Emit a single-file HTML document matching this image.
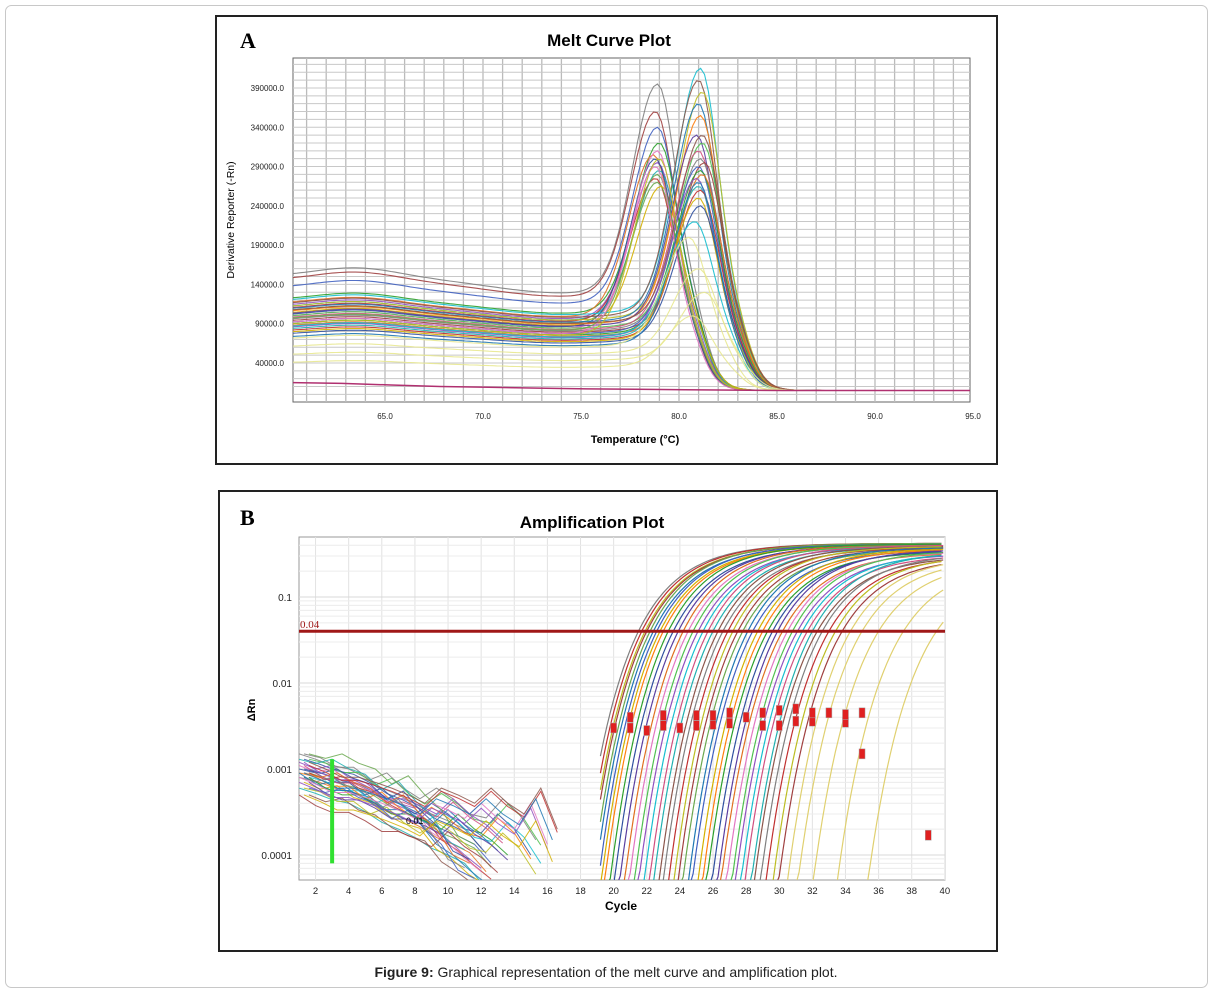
<!DOCTYPE html>
<html><head><meta charset="utf-8">
<style>
html,body{margin:0;padding:0;background:#fff;}
body{width:1213px;height:993px;position:relative;overflow:hidden;font-family:"Liberation Sans",sans-serif;}
svg{display:block;position:absolute;left:0;top:0;}
</style></head>
<body>
<svg id="svg" width="1213" height="993" viewBox="0 0 1213 993" xmlns="http://www.w3.org/2000/svg">
<rect x="5.5" y="5.5" width="1202" height="982" rx="6" fill="#fff" stroke="#c8c8c8"/>
<rect x="216" y="16" width="781" height="448" fill="#fff" stroke="#222" stroke-width="2"/>
<rect x="219" y="491" width="778" height="460" fill="#fff" stroke="#222" stroke-width="2"/>
<text x="240" y="48" font-family="Liberation Serif" font-weight="bold" font-size="22">A</text>
<text x="609" y="46" text-anchor="middle" font-weight="bold" font-size="17">Melt Curve Plot</text>
<text x="240" y="525" font-family="Liberation Serif" font-weight="bold" font-size="22">B</text>
<text x="592" y="528" text-anchor="middle" font-weight="bold" font-size="17">Amplification Plot</text>
<g id="melt"></g>
<g id="amp"></g>
<text x="606" y="977" text-anchor="middle" font-size="14" fill="#222"><tspan font-weight="bold">Figure 9:</tspan> Graphical representation of the melt curve and amplification plot.</text>
</svg>
<script>
// ---------- Melt curve data ----------
const meltTicksX = [65, 70, 75, 80, 85, 90, 95];
const meltTicksY = [40000, 90000, 140000, 190000, 240000, 290000, 340000, 390000];
const meltTickLabelsY = ["40000.0","90000.0","140000.0","190000.0","240000.0","290000.0","340000.0","390000.0"];
// per-curve: peak temperature, peak height, starting baseline
const meltPeakT = [78.9,78.8,78.9,79.0,78.7,78.9,79.0,78.8,78.9,79.1,78.8,78.9,81.1,81.0,81.2,81.0,81.1,80.9,81.2,81.0,81.1,81.3,81.0,81.1,81.2,80.9,81.0,81.1,78.9,81.0,81.1,78.8,80.8,81.2,79.0,81.0,80.5,81.0,81.3,80.7];
const meltPeakH = [395000,360000,340000,320000,305000,295000,285000,275000,270000,265000,300000,310000,415000,400000,385000,370000,355000,330000,320000,310000,300000,295000,290000,285000,280000,275000,265000,260000,280000,250000,240000,290000,220000,330000,300000,270000,200000,160000,130000,100000];
const meltBase = [150000,145000,135000,120000,115000,112000,110000,108000,105000,102000,100000,98000,118000,114000,110000,107000,104000,101000,98000,96000,94000,92000,90000,88000,86000,84000,82000,80000,95000,78000,76000,90000,85000,105000,88000,72000,70000,60000,50000,40000];
const magentaLine = [15000,14000,12000,10000,9000,8000,7000,6500,6000,5500,5000,5000,5000,5000,5000];
// ---------- Amplification data ----------
const ampTicksX = [2,4,6,8,10,12,14,16,18,20,22,24,26,28,30,32,34,36,38,40];
const ampTicksY = [0.0001,0.001,0.01,0.1];
const ampTickLabelsY = ["0.0001","0.001","0.01","0.1"];
const ampThreshold = 0.04;
const ampCt = [21.5,21.7,21.9,22.0,22.2,22.4,22.6,22.8,23.0,23.3,23.6,23.9,24.2,24.5,24.8,25.1,25.4,25.7,26.0,26.3,26.6,26.9,27.2,27.5,27.8,28.1,28.4,28.7,29.0,29.3,29.6,29.9,30.2,30.5,30.8,31.1,31.4,31.7,32.0,32.3,32.6,33.0,33.4,33.8,34.3,35.0,36.0,37.5,39.5];
const ampPlateau = [0.42,0.42,0.41,0.41,0.42,0.4,0.41,0.4,0.4,0.41,0.39,0.4,0.4,0.39,0.4,0.38,0.39,0.4,0.38,0.39,0.37,0.38,0.39,0.37,0.36,0.38,0.35,0.37,0.36,0.34,0.35,0.36,0.33,0.34,0.35,0.32,0.33,0.31,0.34,0.3,0.32,0.3,0.31,0.29,0.3,0.28,0.26,0.25,0.22];
const ampMarkerCycle = [20,21,21,22,23,23,24,25,25,26,26,27,27,28,29,29,30,30,31,31,32,32,33,34,34,35,35,39];
const ampMarkerVal = [0.003,0.003,0.004,0.0028,0.0032,0.0042,0.003,0.0032,0.0042,0.0033,0.0042,0.0034,0.0045,0.004,0.0032,0.0045,0.0032,0.0048,0.0036,0.005,0.0036,0.0045,0.0045,0.0035,0.0043,0.0045,0.0015,0.00017];
const noiseStart = [0.0015,0.0012,0.001,0.0009,0.0008,0.0007,0.0006,0.0011,0.0009,0.0005,0.0013,0.0008];
const noise1 = [0.0015,0.0013,0.0011,0.0010,0.0008,0.0006,0.0005,0.0004,0.0003,0.00025,0.0002,0.00012];
const noise2 = [0.0012,0.0010,0.0011,0.0008,0.0007,0.0005,0.0004,0.00035,0.0002,0.00015,0.0001,0.00007];
const noise3 = [0.0010,0.0009,0.0007,0.0007,0.0005,0.0006,0.0004,0.0003,0.0004,0.0003,0.0002,0.00018,0.0003,0.0002,0.0001];
const noise4 = [0.0008,0.0006,0.0005,0.0005,0.0004,0.0003,0.0003,0.00025,0.0002,0.0003,0.0002,0.00015,0.0001];
const noise5 = [0.0009,0.0008,0.0009,0.0007,0.0006,0.0004,0.0005,0.0003,0.0002,0.0001,0.00008];
const noise6 = [0.0006,0.0005,0.0004,0.0004,0.00035,0.0003,0.00025,0.0002,0.0003,0.00025,0.0002,0.0003,0.0002,0.00015,0.0003,0.0001];
const noiseSeries = [noise1,noise2,noise3,noise4,noise5,noise6];

const NS="http://www.w3.org/2000/svg";
const palette=["#7f7f7f","#a04040","#4060c0","#2ca02c","#e07020","#9050c0","#20b0b0","#c03030","#6aa84f","#d4b000","#3050a0","#e377c2","#17becf","#8c564b","#bcbd22","#1f77b4","#ff7f0e","#5a3ea0","#50c050","#d05080"];
function mk(parent,tag,attrs){const e=document.createElementNS(NS,tag);for(const k in attrs)e.setAttribute(k,attrs[k]);parent.appendChild(e);return e;}

// ---------- Melt plot ----------
(function(){
const g=document.getElementById('melt');
const L=293,R=970,T=58,B=402;
const xs=t=>385+(t-65)*19.6;
const ys=v=>394.4-v*275/350000;
let r=mk(g,'rect',{x:L,y:T,width:R-L,height:B-T,fill:'#fff',stroke:'#666'});

for(let t=61;t<=95;t++){const x=xs(t);if(x<L||x>R)continue;
 const l=mk(g,'line',{x1:x,x2:x,y1:T,y2:B,stroke:'#bbb','stroke-width':1.3});
 }
for(let v=0;v<=430000;v+=10000){const y=ys(v);if(y<T||y>B)continue;
 const l=mk(g,'line',{x1:L,x2:R,y1:y,y2:y,stroke:'#c8c8c8','stroke-width':1});
 }
meltTicksX.forEach(t=>{const tx=mk(g,'text',{x:xs(t),y:419,'text-anchor':'middle','font-size':8,fill:'#222'});tx.textContent=t.toFixed(1);
 });
meltTicksY.forEach((v,i)=>{const tx=mk(g,'text',{x:284,y:ys(v)+3,'text-anchor':'end','font-size':8,fill:'#222'});tx.textContent=meltTickLabelsY[i];
 });
let xt=mk(g,'text',{x:635,y:443,'text-anchor':'middle','font-size':11,'font-weight':'bold'});xt.textContent='Temperature (°C)';

let yt=mk(g,'text',{x:0,y:0,'text-anchor':'middle','font-size':10.5,transform:'translate(234,220) rotate(-90)'});yt.textContent='Derivative Reporter (-Rn)';

const cp=mk(g,'clipPath',{id:'meltclip'});mk(cp,'rect',{x:L,y:T,width:R-L,height:B-T});
const cg=mk(g,'g',{'clip-path':'url(#meltclip)'});
meltPeakT.forEach((tp,i)=>{
 const H=meltPeakH[i],b0=meltBase[i];
 const yellow=i>=36;
 let d='';
 for(let t=60.3;t<=95;t+=0.2){
  const dip=1-0.12*Math.exp(-Math.pow((t-74)/5,2))-0.02*(t-60)/15+0.08*Math.exp(-Math.pow((t-63.5)/3,2));
  const base=b0*dip;
  const cut=1/(1+Math.exp((t-(tp+2.4))/0.45));
  const w=t<tp?1.75:1.25;
  const pk=Math.exp(-Math.pow((t-tp)/w,2));
  const v=(base*cut+5000*(1-cut))*(1-pk)+H*pk;
  d+=(d?'L':'M')+xs(t).toFixed(1)+','+ys(Math.max(3000,v)).toFixed(1);
 }
 const p=mk(cg,'path',{d:d,fill:'none',stroke:yellow?'#e8e890':palette[i%palette.length],'stroke-width':1.1,opacity:0.9});
 
});
let dm='';magentaLine.forEach((v,i)=>{dm+=(i?'L':'M')+xs(60.3+i*2.5).toFixed(1)+','+ys(v).toFixed(1);});
const pm=mk(cg,'path',{d:dm,fill:'none',stroke:'#b03070','stroke-width':1.5});

})();

// ---------- Amplification plot ----------
(function(){
const g=document.getElementById('amp');
const L=299,R=945,T=537,B=880;
const xs=c=>299+(c-1)*16.56;
const ys=v=>Math.min(885,597-(Math.log10(v)+1)*86);
let r=mk(g,'rect',{x:L,y:T,width:R-L,height:B-T,fill:'#fff',stroke:'#999'});

for(let c=2;c<=40;c+=2){const l=mk(g,'line',{x1:xs(c),x2:xs(c),y1:T,y2:B,stroke:'#e2e2e2'});
 }
for(let e=-5;e<=0;e++)for(let m=1;m<10;m++){const y=ys(m*Math.pow(10,e));if(y<T||y>=B)continue;
 const l=mk(g,'line',{x1:L,x2:R,y1:y,y2:y,stroke:m==1?'#d8d8d8':'#ececec'});
 }
ampTicksX.forEach(c=>{const tx=mk(g,'text',{x:xs(c),y:894,'text-anchor':'middle','font-size':9.5,fill:'#222'});tx.textContent=c;
 });
ampTicksY.forEach((v,i)=>{const tx=mk(g,'text',{x:292,y:ys(v)+4,'text-anchor':'end','font-size':10,fill:'#222'});tx.textContent=ampTickLabelsY[i];
 });
let xt=mk(g,'text',{x:621,y:910,'text-anchor':'middle','font-size':12,'font-weight':'bold'});xt.textContent='Cycle';

let yt=mk(g,'text',{x:0,y:0,'text-anchor':'middle','font-size':11,'font-weight':'bold',transform:'translate(255,710) rotate(-90)'});yt.textContent='ΔRn';

const cp=mk(g,'clipPath',{id:'ampclip'});mk(cp,'rect',{x:L,y:T,width:R-L,height:B-T});
const cg=mk(g,'g',{'clip-path':'url(#ampclip)'});
// noise
noiseSeries.forEach((s,i)=>{for(let k=0;k<noiseStart.length;k+=2){
 let d='';const f=noiseStart[(k+i)%noiseStart.length]/s[0];
 s.forEach((v,j)=>{d+=(j?'L':'M')+xs(1+j+(k%3)*0.3).toFixed(1)+','+ys(v*f).toFixed(1);});
 const p=mk(cg,'path',{d:d,fill:'none',stroke:palette[(i*5+k)%palette.length],'stroke-width':1,opacity:0.85});
 }});
const gb=mk(cg,'rect',{x:xs(3)-2,y:ys(0.0013),width:4,height:ys(0.00008)-ys(0.0013),fill:'#30e030'});

let lb=mk(cg,'text',{x:406,y:824,'font-size':9});lb.textContent='0.01';

// curves (log-space Gompertz-like approach to plateau)
const k=2.6;
ampCt.forEach((ct,i)=>{
 const P=ampPlateau[i];const Dt=Math.log10(P/ampThreshold);
 let d='';
 for(let c=Math.max(ct-6,19.2);c<=40;c+=0.2){
  const lv=Math.log10(P)-Dt*Math.exp(-(c-ct)/k);
  d+=(d?'L':'M')+xs(c).toFixed(1)+','+ys(Math.pow(10,lv)).toFixed(1);}
 const col=i>=44?'#e0d070':palette[(i*7)%palette.length];
 const p=mk(cg,'path',{d:d,fill:'none',stroke:col,'stroke-width':1.2});
 
});
ampMarkerCycle.forEach((c,i)=>{
 const m=mk(cg,'rect',{x:xs(c)-3,y:ys(ampMarkerVal[i])-5,width:6,height:10,fill:'#e02020',stroke:'#aaa','stroke-width':0.5});
 
});
const th=mk(g,'line',{x1:L,x2:R,y1:ys(ampThreshold),y2:ys(ampThreshold),stroke:'#a01818','stroke-width':3});

let tl=mk(g,'text',{x:300,y:ys(ampThreshold)-3,'font-size':11,fill:'#a01818','font-family':'Liberation Serif'});tl.textContent='0.04';

})();
</script>
</body></html>
